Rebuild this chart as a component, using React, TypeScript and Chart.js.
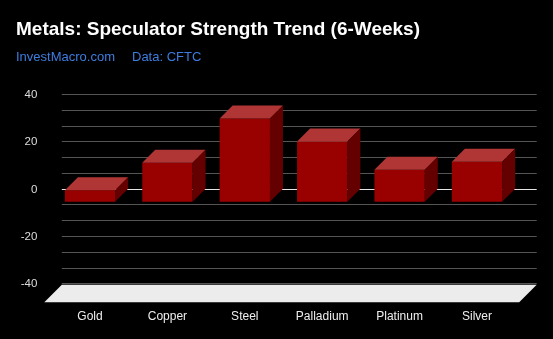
import React, { useEffect, useRef } from 'react';
import { Chart, registerables } from 'chart.js';

Chart.register(...registerables);

const categories = ['Gold', 'Copper', 'Steel', 'Palladium', 'Platinum', 'Silver'];
const strengthValues = [4.8, 16.4, 35.1, 25.4, 13.5, 16.9];
const yMin = -40;
const yMax = 40;
const yLabelStep = 20;
const gridStep = 20 / 3;
const titleText = 'Metals: Speculator Strength Trend (6-Weeks)';
const subtitleSource = 'InvestMacro.com';
const subtitleData = 'Data: CFTC';

const DEPTH = 13;
const FLOOR_DEPTH = 17.5;

const wallPlugin = {
  id: 'wall3d',
  beforeDatasetsDraw(chart: any) {
    const ctx = chart.ctx;
    const area = chart.chartArea;
    const ys = chart.scales.y;
    const wallL = area.left + 10.5;
    const wallR = area.right + 21;
    ctx.save();
    const n = Math.round((yMax - yMin) / gridStep);
    for (let k = 0; k <= n; k++) {
      const v = yMin + k * gridStep;
      const py = Math.round(ys.getPixelForValue(v) - DEPTH) + 0.5;
      ctx.beginPath();
      ctx.strokeStyle = Math.abs(v) < 1e-6 ? '#e6e6e6' : '#555555';
      ctx.lineWidth = 1;
      ctx.moveTo(wallL, py);
      ctx.lineTo(wallR, py);
      ctx.stroke();
    }
    const floorTop = ys.getPixelForValue(yMin) - DEPTH + 1.5;
    const floorBot = floorTop + FLOOR_DEPTH;
    ctx.beginPath();
    ctx.fillStyle = '#ececec';
    ctx.moveTo(wallL, floorTop);
    ctx.lineTo(wallR, floorTop);
    ctx.lineTo(wallR - FLOOR_DEPTH, floorBot);
    ctx.lineTo(wallL - FLOOR_DEPTH, floorBot);
    ctx.closePath();
    ctx.fill();
    ctx.restore();
  },
  afterDatasetsDraw(chart: any) {
    const ctx = chart.ctx;
    const meta = chart.getDatasetMeta(0);
    ctx.save();
    meta.data.forEach((el: any) => {
      const { x, y, base, width } = el.getProps(['x', 'y', 'base', 'width'], true);
      const left = x - width / 2;
      const right = x + width / 2;
      const top = Math.min(y, base);
      const bottom = Math.max(y, base);
      ctx.beginPath();
      ctx.fillStyle = '#b03535';
      ctx.moveTo(left, top);
      ctx.lineTo(left + DEPTH, top - DEPTH);
      ctx.lineTo(right + DEPTH, top - DEPTH);
      ctx.lineTo(right, top);
      ctx.closePath();
      ctx.fill();
      ctx.beginPath();
      ctx.fillStyle = '#640000';
      ctx.moveTo(right, top);
      ctx.lineTo(right + DEPTH, top - DEPTH);
      ctx.lineTo(right + DEPTH, bottom - DEPTH);
      ctx.lineTo(right, bottom);
      ctx.closePath();
      ctx.fill();
    });
    ctx.restore();
  },
};

const headerPlugin = {
  id: 'header',
  afterDraw(chart: any) {
    const ctx = chart.ctx;
    ctx.save();
    ctx.textBaseline = 'alphabetic';
    ctx.textAlign = 'left';
    ctx.fillStyle = '#ffffff';
    ctx.font = 'bold 19px "Liberation Sans", Arial, sans-serif';
    ctx.fillText(titleText, 16, 35);
    ctx.fillStyle = '#3d7de0';
    ctx.font = '13px "Liberation Sans", Arial, sans-serif';
    ctx.fillText(subtitleSource, 16, 61);
    ctx.fillText(subtitleData, 132, 61);
    ctx.restore();
  },
};

export default function App() {
  const ref = useRef<HTMLCanvasElement | null>(null);
  useEffect(() => {
    document.body.style.margin = '0';
    document.body.style.background = '#000';
    const canvas = ref.current;
    if (!canvas) return;
    const chart = new Chart(canvas, {
      type: 'bar',
      data: {
        labels: categories,
        datasets: [
          {
            data: strengthValues,
            backgroundColor: '#990000',
            borderWidth: 0,
            categoryPercentage: 1,
            barPercentage: 0.65,
          },
        ],
      },
      options: {
        animation: false,
        responsive: true,
        maintainAspectRatio: false,
        layout: { padding: { top: 107, right: 37.3, left: 0, bottom: 0 } },
        plugins: {
          legend: { display: false },
          tooltip: { enabled: false },
          title: { display: false },
        },
        scales: {
          x: {
            grid: { display: false },
            border: { display: false },
            ticks: {
              color: '#eeeeee',
              font: { size: 12, family: '"Liberation Sans", Arial, sans-serif' },
              padding: 5,
              maxRotation: 0,
            },
            afterFit(scale: any) {
              scale.height = 42.7;
            },
          },
          y: {
            min: yMin,
            max: yMax,
            grid: { display: false },
            border: { display: false },
            ticks: {
              stepSize: yLabelStep,
              color: '#dddddd',
              font: { size: 11.5, family: '"Liberation Sans", Arial, sans-serif' },
              padding: 6,
              labelOffset: -DEPTH + 1,
            },
            afterFit(scale: any) {
              scale.width = 51.3;
            },
          },
        },
      },
      plugins: [wallPlugin, headerPlugin],
    });
    return () => chart.destroy();
  }, []);
  return (
    <div style={{ width: 553, height: 339, background: '#000', position: 'relative' }}>
      <canvas ref={ref} />
    </div>
  );
}
